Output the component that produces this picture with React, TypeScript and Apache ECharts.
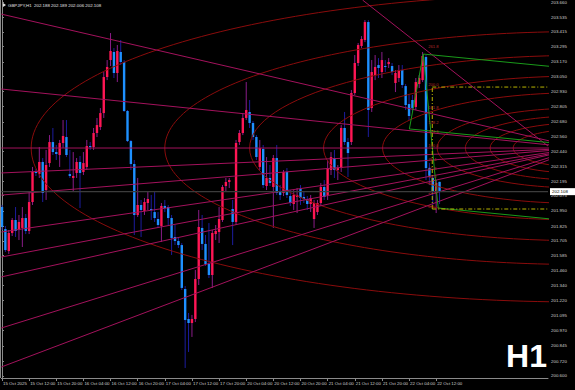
import React, { useEffect, useRef } from "react";
import * as echarts from "echarts";

// ---------- axis labels ----------
const timeLabels = [
  "15 Oct 2025", "15 Oct 12:00", "15 Oct 20:00", "16 Oct 04:00", "16 Oct 12:00", "16 Oct 20:00",
  "17 Oct 04:00", "17 Oct 12:00", "17 Oct 20:00", "20 Oct 04:00", "20 Oct 12:00", "20 Oct 20:00",
  "21 Oct 04:00", "21 Oct 12:00", "21 Oct 20:00", "22 Oct 04:00", "22 Oct 12:00",
];
const timeLabelBars = [0, 8, 16, 24, 32, 40, 48, 56, 64, 72, 80, 88, 96, 104, 112, 120, 128];
const priceLabels = [
  203.66, 203.535, 203.415, 203.295, 203.17, 203.05, 202.93, 202.805, 202.68, 202.56, 202.44, 202.315,
  202.195, 202.075, 201.95, 201.825, 201.705, 201.585, 201.46, 201.34, 201.22, 201.095, 200.97,
  200.845, 200.72, 200.6,
];

// ---------- GBPJPY H1 candles ----------
const open = [
  201.982, 201.802, 201.622, 201.770, 201.876, 201.794, 201.811, 201.892, 201.786, 202.023,
  202.269, 202.252, 202.351, 202.121, 202.342, 202.514, 202.432, 202.408, 202.506, 202.555,
  202.252, 202.220, 202.261, 202.351, 202.269, 202.310, 202.481, 202.473, 202.588, 202.637,
  202.751, 203.046, 203.185, 203.251, 203.079, 203.251, 203.169, 202.768, 202.522, 202.334,
  201.917, 201.999, 201.950, 202.015, 201.966, 201.941, 201.884, 201.827, 201.991, 201.982,
  201.892, 201.737, 201.704, 201.671, 201.311, 201.066, 201.033, 201.066, 201.393, 201.811,
  201.680, 201.516, 201.426, 201.761, 201.778, 201.876, 202.154, 202.187, 201.966, 201.860,
  202.514, 202.588, 202.711, 202.760, 202.670, 202.555, 202.310, 202.457, 202.154, 202.220,
  202.146, 202.383, 202.105, 202.097, 202.269, 202.072, 202.007, 202.064, 202.130, 202.064,
  202.048, 202.007, 201.884, 201.941, 202.015, 202.146, 202.081, 202.285, 202.383, 202.285,
  202.301, 202.629, 202.514, 202.514, 202.915, 203.161, 203.300, 203.349, 203.496, 202.792,
  203.062, 203.144, 203.087, 203.136, 203.152, 203.136, 202.997, 203.038, 203.103, 202.972,
  202.825, 202.858, 202.801, 202.989, 203.021, 203.210, 202.301, 202.220, 202.097, 202.188,
];
const high = [
  201.999, 201.827, 201.794, 201.892, 201.982, 201.917, 201.982, 201.925, 202.105, 202.310,
  202.293, 202.473, 202.383, 202.449, 202.571, 202.629, 202.490, 202.531, 202.694, 202.694,
  202.449, 202.432, 202.383, 202.400, 202.432, 202.531, 202.514, 202.629, 202.711, 202.792,
  203.087, 203.185, 203.406, 203.283, 203.308, 203.349, 203.185, 202.776, 202.531, 202.367,
  202.220, 202.040, 202.056, 202.105, 202.081, 202.105, 201.941, 202.015, 202.040, 201.999,
  201.917, 201.835, 201.729, 201.688, 201.336, 201.115, 201.099, 201.467, 201.958, 201.917,
  201.753, 201.851, 201.794, 201.835, 201.982, 202.162, 202.220, 202.220, 202.040, 202.531,
  202.612, 202.751, 203.005, 202.858, 202.686, 202.571, 202.531, 202.490, 202.391, 202.326,
  202.408, 202.490, 202.162, 202.285, 202.301, 202.121, 202.121, 202.138, 202.162, 202.105,
  202.072, 202.081, 202.040, 202.040, 202.179, 202.203, 202.367, 202.432, 202.449, 202.326,
  202.653, 202.760, 202.547, 202.940, 203.226, 203.324, 203.381, 203.512, 203.512, 203.185,
  203.226, 203.201, 203.251, 203.185, 203.201, 203.161, 203.103, 203.144, 203.144, 202.989,
  202.899, 202.899, 203.038, 203.062, 203.251, 203.226, 202.342, 202.244, 202.203, 202.189,
];
const low = [
  201.794, 201.614, 201.598, 201.745, 201.737, 201.712, 201.655, 201.761, 201.761, 201.999,
  202.236, 202.220, 202.023, 202.040, 202.310, 202.408, 202.367, 202.310, 202.465, 202.391,
  202.220, 202.105, 202.220, 201.974, 202.244, 202.285, 202.449, 202.449, 202.555, 202.612,
  202.711, 203.021, 203.136, 203.038, 203.005, 203.144, 202.760, 202.514, 202.285, 201.753,
  201.901, 201.737, 201.917, 201.958, 201.876, 201.860, 201.811, 201.696, 201.941, 201.835,
  201.590, 201.671, 201.647, 201.303, 200.665, 200.796, 200.919, 201.041, 201.344, 201.630,
  201.500, 201.401, 201.320, 201.712, 201.688, 201.860, 202.105, 202.138, 201.671, 201.835,
  202.490, 202.571, 202.694, 202.629, 202.531, 202.367, 202.285, 202.138, 202.121, 202.154,
  201.811, 202.081, 202.040, 202.072, 202.056, 201.991, 201.958, 201.933, 201.999, 202.015,
  201.958, 201.941, 201.811, 201.917, 201.991, 202.040, 202.040, 202.244, 202.220, 202.203,
  202.269, 202.490, 202.228, 202.490, 202.899, 203.136, 203.283, 203.332, 202.555, 202.760,
  203.021, 203.038, 203.038, 203.087, 203.120, 203.062, 202.923, 203.005, 202.956, 202.776,
  202.694, 202.760, 202.776, 202.956, 203.005, 202.203, 202.162, 201.999, 201.933, 202.006,
];
const close = [
  201.819, 201.630, 201.770, 201.876, 201.786, 201.860, 201.892, 201.786, 202.023, 202.269,
  202.261, 202.351, 202.097, 202.326, 202.514, 202.432, 202.416, 202.506, 202.563, 202.408,
  202.236, 202.236, 202.351, 202.261, 202.342, 202.481, 202.473, 202.588, 202.653, 202.751,
  203.046, 203.128, 203.259, 203.079, 203.259, 203.169, 202.768, 202.522, 202.334, 201.917,
  201.999, 201.958, 202.023, 202.048, 201.958, 201.892, 201.835, 201.991, 201.974, 201.892,
  201.729, 201.704, 201.671, 201.320, 201.058, 201.033, 201.066, 201.393, 201.819, 201.680,
  201.516, 201.426, 201.770, 201.786, 201.884, 202.146, 202.187, 202.203, 201.860, 202.506,
  202.588, 202.711, 202.776, 202.670, 202.555, 202.391, 202.465, 202.162, 202.220, 202.179,
  202.383, 202.097, 202.081, 202.269, 202.081, 202.015, 202.081, 202.081, 202.056, 202.048,
  202.007, 202.056, 202.015, 202.015, 202.146, 202.064, 202.301, 202.391, 202.285, 202.301,
  202.629, 202.514, 202.424, 202.915, 203.161, 203.308, 203.357, 203.496, 202.776, 203.087,
  203.128, 203.120, 203.185, 203.128, 203.169, 203.087, 203.079, 203.103, 202.981, 202.817,
  202.727, 202.792, 203.005, 203.038, 203.218, 202.301, 202.236, 202.105, 202.179, 202.108,
];
const lastPrice = 202.108;
const headerText = "GBPJPY,H1  202.188 202.189 202.006 202.108";

// ---------- drawing objects (bar index, price) ----------
const fanOrigin = [170.4, 202.465];
const fanLeftPrices = [203.561, 202.948, 202.465, 202.261, 202.08, 201.778, 201.573, 201.41, 200.992, 200.673];
const steepLineStart = [106.3, 203.676];
const steepLineEnd = [160.97, 202.481];
const ellipseRadiusBars = [161.8, 122.4, 97.4, 75.6, 58.2, 42.1, 33.8, 26.5, 19.7];
const ellipseRadiusPrice = [1.26, 0.953, 0.758, 0.589, 0.453, 0.327, 0.263, 0.206, 0.154];
const pitchA = [120.1, 202.621];
const pitchB = [124.2, 203.234];
const pitchC = [128.6, 201.974];
const fibBar = 126.85;
const fibZero = 201.966;
const fibHundred = 202.465;
const fibLevels = [0, 23.6, 38.2, 50, 61.8, 76.4, 100, 123.6, 138.2, 161.8, 200, 261.8];
const fibLineLevels = [0, 200];

const X_MIN = -0.206;
const X_MAX = 160.97;

export default function App() {
  const ref = useRef<HTMLDivElement>(null);
  useEffect(() => {
    const chart = echarts.init(ref.current!, undefined, { renderer: "svg" });
    const candles = open.map((o, i) => [i, o, close[i], low[i], high[i]]);
    const font = "Liberation Sans";
    const axisColor = "#8a8a8a";
    const labelColor = "#cfcfcf";
    const fanColor = "#a3125c";
    const ellipseColor = "#8a0c0c";
    const green = "#1a9a1a";
    const yellow = "#b8b400";

    const option: any = {
      animation: false,
      backgroundColor: "#000000",
      grid: { left: 0, right: 27, top: 0, bottom: 12 },
      xAxis: {
        type: "value",
        min: X_MIN,
        max: X_MAX,
        axisLine: { show: true, lineStyle: { color: axisColor, width: 1 } },
        axisTick: { show: true, customValues: timeLabelBars, length: 3, lineStyle: { color: axisColor } },
        axisLabel: {
          customValues: timeLabelBars,
          formatter: (v: number) => timeLabels[timeLabelBars.indexOf(Math.round(v))] ?? "",
          color: labelColor,
          fontSize: 4.4,
          fontFamily: font,
          align: "left",
          margin: 3,
          padding: [0, 0, 0, 1],
        },
        splitLine: { show: false },
      },
      yAxis: {
        type: "value",
        position: "right",
        min: 200.583,
        max: 203.676,
        axisLine: { show: true, lineStyle: { color: axisColor, width: 1 } },
        axisTick: { show: true, customValues: priceLabels, length: 2, lineStyle: { color: axisColor } },
        axisLabel: {
          customValues: priceLabels,
          formatter: (v: number) => v.toFixed(3),
          color: labelColor,
          fontSize: 4.4,
          fontFamily: font,
          margin: 3,
        },
        splitLine: { show: false },
      },
      graphic: [
        { type: "line", shape: { x1: 0.5, y1: 0, x2: 0.5, y2: 378 }, style: { stroke: axisColor, lineWidth: 1 } },
        { type: "polygon", shape: { points: [[3, 3], [6, 5], [3, 7]] }, style: { fill: "#dddddd" } },
        {
          type: "text",
          left: 8,
          top: 3,
          style: { text: headerText, fill: "#e6e6e6", fontSize: 4.4, fontFamily: font },
        },
        {
          type: "text",
          right: 28,
          top: 340,
          z: 10,
          style: { text: "H1", fill: "#ffffff", fontSize: 32, fontWeight: "bold", fontFamily: "Liberation Sans" },
        },
      ],
      series: [
        {
          type: "custom",
          name: "candles",
          z: 2,
          clip: true,
          silent: true,
          encode: { x: 0, y: [1, 2, 3, 4] },
          data: candles,
          renderItem: (params: any, api: any) => {
            const x = api.value(0);
            const o = api.value(1);
            const c = api.value(2);
            const l = api.value(3);
            const h = api.value(4);
            const po = api.coord([x, o]);
            const pc = api.coord([x, c]);
            const ph = api.coord([x, h]);
            const pl = api.coord([x, l]);
            const bull = c >= o;
            const cx = po[0];
            const bw = 2.4;
            const top = Math.min(po[1], pc[1]);
            const bh = Math.max(1, Math.abs(po[1] - pc[1]));
            return {
              type: "group",
              children: [
                {
                  type: "line",
                  shape: { x1: cx, y1: ph[1], x2: cx, y2: pl[1] },
                  style: { stroke: bull ? "#8a1c88" : "#1c1c9e", lineWidth: 1 },
                },
                {
                  type: "rect",
                  shape: { x: cx - bw / 2, y: top, width: bw, height: bh },
                  style: { fill: bull ? "#ff1654" : "#1e90ff" },
                },
              ],
            };
          },
        },
        {
          type: "custom",
          name: "objects",
          z: 3,
          clip: true,
          silent: true,
          encode: { x: 0, y: 1 },
          data: [[fanOrigin[0], fanOrigin[1]]],
          renderItem: (params: any, api: any) => {
            const children: any[] = [];
            const o = api.coord(fanOrigin);
            ellipseRadiusBars.forEach((rb, i) => {
              const rx = api.size([rb, 0])[0];
              const ry = api.size([0, ellipseRadiusPrice[i]])[1];
              children.push({
                type: "ellipse",
                shape: { cx: o[0], cy: o[1], rx, ry },
                style: { fill: "none", stroke: ellipseColor, lineWidth: 1 },
              });
            });
            fanLeftPrices.forEach((p) => {
              const a = api.coord([X_MIN, p]);
              children.push({
                type: "line",
                shape: { x1: a[0], y1: a[1], x2: o[0], y2: o[1] },
                style: { stroke: fanColor, lineWidth: 1 },
              });
            });
            const s0 = api.coord(steepLineStart);
            const s1 = api.coord(steepLineEnd);
            children.push({
              type: "line",
              shape: { x1: s0[0], y1: s0[1], x2: s1[0], y2: s1[1] },
              style: { stroke: fanColor, lineWidth: 1 },
            });
            // pitchfork
            const mid = [(pitchB[0] + pitchC[0]) / 2, (pitchB[1] + pitchC[1]) / 2];
            const dir = [mid[0] - pitchA[0], mid[1] - pitchA[1]];
            const ray = (p: number[]) => {
              const t = (X_MAX + 5 - p[0]) / dir[0];
              const a = api.coord(p);
              const b = api.coord([p[0] + t * dir[0], p[1] + t * dir[1]]);
              return { type: "line", shape: { x1: a[0], y1: a[1], x2: b[0], y2: b[1] }, style: { stroke: green, lineWidth: 1 } };
            };
            children.push(ray(pitchA), ray(pitchB), ray(pitchC));
            const pa = api.coord(pitchA);
            const pb = api.coord(pitchB);
            const pcc = api.coord(pitchC);
            children.push({ type: "line", shape: { x1: pa[0], y1: pa[1], x2: pb[0], y2: pb[1] }, style: { stroke: green, lineWidth: 1 } });
            children.push({ type: "line", shape: { x1: pb[0], y1: pb[1], x2: pcc[0], y2: pcc[1] }, style: { stroke: green, lineWidth: 1 } });
            // fibonacci
            const lvl = (r: number) => fibZero + (r / 100) * (fibHundred - fibZero);
            fibLineLevels.forEach((r) => {
              const a = api.coord([fibBar, lvl(r)]);
              const b = api.coord([X_MAX, lvl(r)]);
              children.push({
                type: "line",
                shape: { x1: a[0], y1: a[1], x2: b[0], y2: b[1] },
                style: { stroke: yellow, lineWidth: 1, lineDash: [4, 2, 1, 2] },
              });
            });
            const v0 = api.coord([fibBar, lvl(0)]);
            const v1 = api.coord([fibBar, lvl(200)]);
            children.push({
              type: "line",
              shape: { x1: v0[0], y1: v0[1], x2: v1[0], y2: v1[1] },
              style: { stroke: yellow, lineWidth: 1, lineDash: [4, 2, 1, 2] },
            });
            fibLevels.forEach((r) => {
              const p = api.coord([fibBar - 1.2, lvl(r)]);
              children.push({
                type: "text",
                x: p[0],
                y: p[1] - 0.5,
                style: {
                  text: r.toFixed(1),
                  fill: "#b02a2a",
                  fontSize: 4.2,
                  fontFamily: font,
                  textAlign: "left",
                  textVerticalAlign: "bottom",
                },
              });
            });
            return { type: "group", children };
          },
        },
        {
          type: "custom",
          name: "bid",
          z: 4,
          clip: false,
          silent: true,
          encode: { x: 0, y: 1 },
          data: [[X_MAX, lastPrice]],
          renderItem: (params: any, api: any) => {
            const a = api.coord([X_MIN, lastPrice]);
            const b = api.coord([X_MAX, lastPrice]);
            return {
              type: "group",
              children: [
                { type: "line", shape: { x1: a[0], y1: a[1], x2: b[0], y2: b[1] }, style: { stroke: "#3c3c3c", lineWidth: 1.2 } },
                { type: "rect", shape: { x: b[0] + 2, y: a[1] - 3.5, width: 25, height: 7 }, style: { fill: "#ffffff" } },
                {
                  type: "text",
                  x: b[0] + 4,
                  y: a[1],
                  style: { text: lastPrice.toFixed(3), fill: "#000000", fontSize: 4.4, fontFamily: font, textVerticalAlign: "middle" },
                },
              ],
            };
          },
        },
      ],
    };
    chart.setOption(option);
    return () => chart.dispose();
  }, []);
  return (
    <div
      ref={ref}
      style={{ position: "fixed", left: 0, top: 0, width: 575, height: 390, background: "#000" }}
    />
  );
}
